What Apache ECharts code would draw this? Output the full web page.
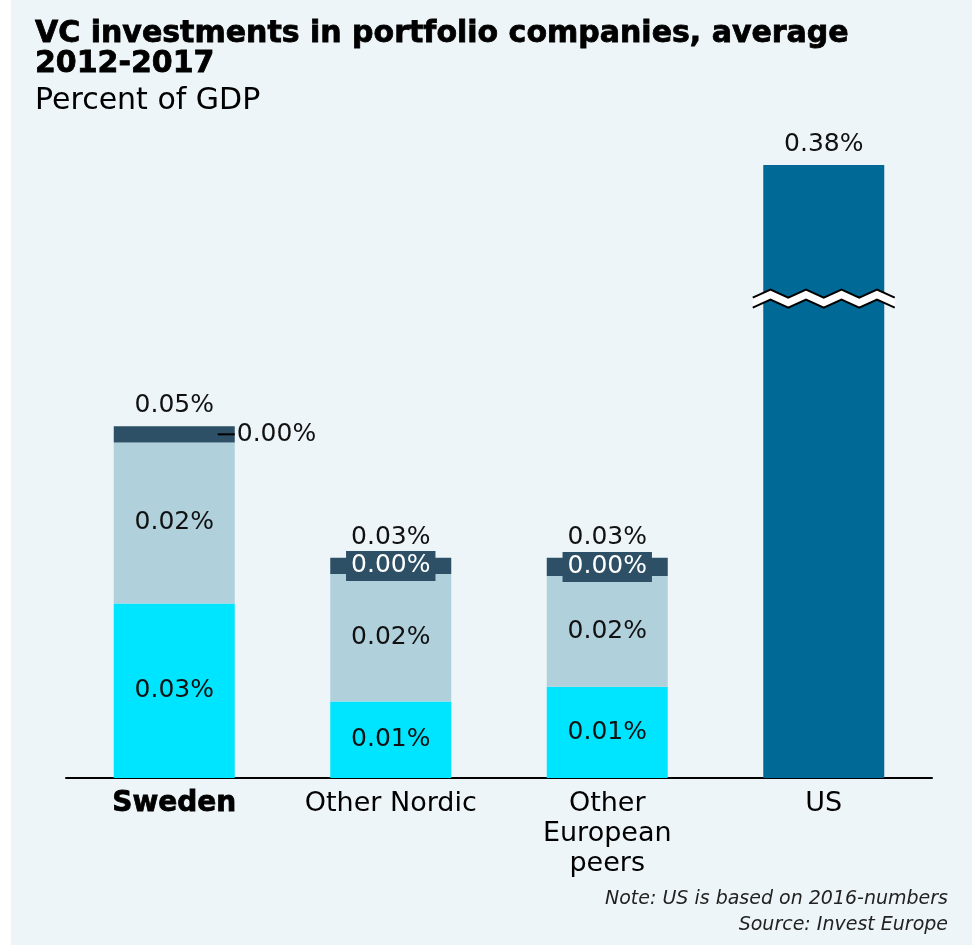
<!DOCTYPE html>
<html>
<head>
<meta charset="utf-8">
<script src="https://cdn.jsdelivr.net/npm/echarts@6/dist/echarts.min.js"></script>
<style>
html,body{margin:0;padding:0;background:#ffffff;}
#chart{width:972px;height:947px;}
</style>
</head>
<body>
<div id="chart"></div>
<script>
const categories = ['Sweden', 'Other Nordic', 'Other\nEuropean\npeers', 'US'];
const seg1 = [0.026, 0.0114, 0.0136, '-'];   // bottom (cyan)
const seg2 = [0.024, 0.019, 0.0165, '-'];    // middle (light)
const seg3 = [0.0024, 0.0024, 0.0027, '-'];  // top (dark)
const usValues = ['-', '-', '-', 0.38];
const breakStart = 0.0705;
const breakEnd = 0.361;
const axisMax = 0.38;

const totals = categories.map((c, i) => {
  if (usValues[i] !== '-') return usValues[i];
  return seg1[i] + seg2[i] + seg3[i];
});
const pct = v => v.toFixed(2) + '%';

const FONT = 'DejaVu Sans';
const C_CYAN = '#00e5ff', C_LIGHT = '#b0d0dc', C_DARK = '#2d5066', C_US = '#006995';
const BG = {type: 'rect', z: -10, silent: true, shape: {x: 11, y: 0, width: 961, height: 945}, style: {fill: '#eef5f8'}};
const LBL = 25;

const chart = echarts.init(document.getElementById('chart'), null, {renderer: 'canvas'});

const option = {
  backgroundColor: 'transparent',
  animation: false,
  title: [
    {
      text: 'VC investments in portfolio companies, average\n2012-2017',
      left: 30, top: 14,
      textStyle: {fontFamily: 'DejaVu Sans', fontWeight: 'bold', fontSize: 30, lineHeight: 30, color: '#000',
        textBorderColor: '#000', textBorderWidth: 0.8}
    },
    {
      text: 'Percent of GDP',
      left: 30, top: 81,
      textStyle: {fontFamily: FONT, fontWeight: 'normal', fontSize: 30, color: '#000'}
    }
  ],
  graphic: [BG],
  grid: {left: 66, right: 40, top: 165, bottom: 169, containLabel: false},
  xAxis: {
    type: 'category',
    data: categories,
    axisLine: {lineStyle: {color: '#000', width: 2}},
    axisTick: {show: false},
    axisLabel: {
      interval: 0, hideOverlap: false,
      margin: 11,
      fontFamily: FONT, fontSize: 27, lineHeight: 30, color: '#000',
      formatter: (v) => v === 'Sweden' ? '{b|' + v + '}' : v,
      rich: {b: {fontFamily: 'DejaVu Sans', fontWeight: 'bold', fontSize: 28, color: '#000',
        textBorderColor: '#000', textBorderWidth: 0.8}}
    }
  },
  yAxis: {
    type: 'value',
    min: 0, max: axisMax,
    breaks: [{start: breakStart, end: breakEnd, gap: '2%'}],
    breakArea: {show: false},
    axisLine: {show: false}, axisTick: {show: false}, axisLabel: {show: false}, splitLine: {show: false}
  },
  series: [
    {
      name: 'seg1', type: 'bar', stack: 's', barWidth: 121, data: seg1,
      itemStyle: {color: C_CYAN},
      label: {show: true, position: 'inside', fontFamily: FONT, fontSize: LBL, color: '#111', formatter: p => pct(p.value)}
    },
    {
      name: 'seg2', type: 'bar', stack: 's', data: seg2,
      itemStyle: {color: C_LIGHT},
      label: {show: true, position: 'inside', fontFamily: FONT, fontSize: LBL, color: '#111', formatter: p => pct(p.value)}
    },
    {
      name: 'seg3', type: 'bar', stack: 's',
      data: seg3.map((v, i) => i === 0 ? {
        value: v,
        label: {
          show: true, position: ['100%', '50%'], offset: [-17, 0], align: 'left', verticalAlign: 'middle',
          backgroundColor: 'transparent', padding: 0, color: '#111',
          formatter: p => '{l|}{v|' + pct(p.value) + '}',
          rich: {l: {width: 17, height: 2, backgroundColor: '#000'}, v: {fontFamily: FONT, fontSize: LBL, color: '#111', padding: [0, 0, 0, 2]}}
        }
      } : v),
      itemStyle: {color: C_DARK},
      label: {show: true, position: 'inside', fontFamily: FONT, fontSize: LBL, color: '#fff',
        backgroundColor: C_DARK, padding: [3, 5, 2, 5], formatter: p => pct(p.value)}
    },
    {
      name: 'US', type: 'bar', stack: 's', data: usValues,
      itemStyle: {color: C_US}
    },
    {
      name: 'total', type: 'bar', stack: 's', data: categories.map(() => 0),
      itemStyle: {color: 'transparent'},
      label: {show: true, position: 'top', distance: 8, fontFamily: FONT, fontSize: LBL, color: '#111',
        formatter: p => pct(totals[p.dataIndex])}
    }
  ]
};
chart.setOption(option);

// zigzag break marker drawn across the US bar only, at the break location on the axis
const xc = chart.convertToPixel({xAxisIndex: 0}, 3);
const yLow = chart.convertToPixel({yAxisIndex: 0}, breakStart);
const yHigh = chart.convertToPixel({yAxisIndex: 0}, breakEnd);
const yMid = (yLow + yHigh) / 2;
const x0 = xc - 71, x1 = xc + 71;
const n = 8, amp = 4, half = 5;
const topPts = [], botPts = [];
for (let k = 0; k <= n; k++) {
  const x = x0 + (x1 - x0) * k / n;
  const dy = (k % 2 === 0) ? amp : -amp;
  topPts.push([x, yMid - half + dy]);
  botPts.push([x, yMid + half + dy]);
}
chart.setOption({
  graphic: [
    BG,
    {type: 'polygon', z: 100, silent: true, shape: {points: topPts.concat(botPts.slice().reverse())}, style: {fill: '#fff'}},
    {type: 'polyline', z: 101, silent: true, shape: {points: topPts}, style: {stroke: '#000', lineWidth: 2, fill: null}},
    {type: 'polyline', z: 101, silent: true, shape: {points: botPts}, style: {stroke: '#000', lineWidth: 2, fill: null}},
    {type: 'text', z: 50, silent: true, style: {x: 948, y: 886, text: 'Note: US is based on 2016-numbers\nSource: Invest Europe',
      align: 'right', verticalAlign: 'top', font: 'italic 19px "DejaVu Sans"', lineHeight: 26, fill: '#222'}}
  ]
});
</script>
</body>
</html>
